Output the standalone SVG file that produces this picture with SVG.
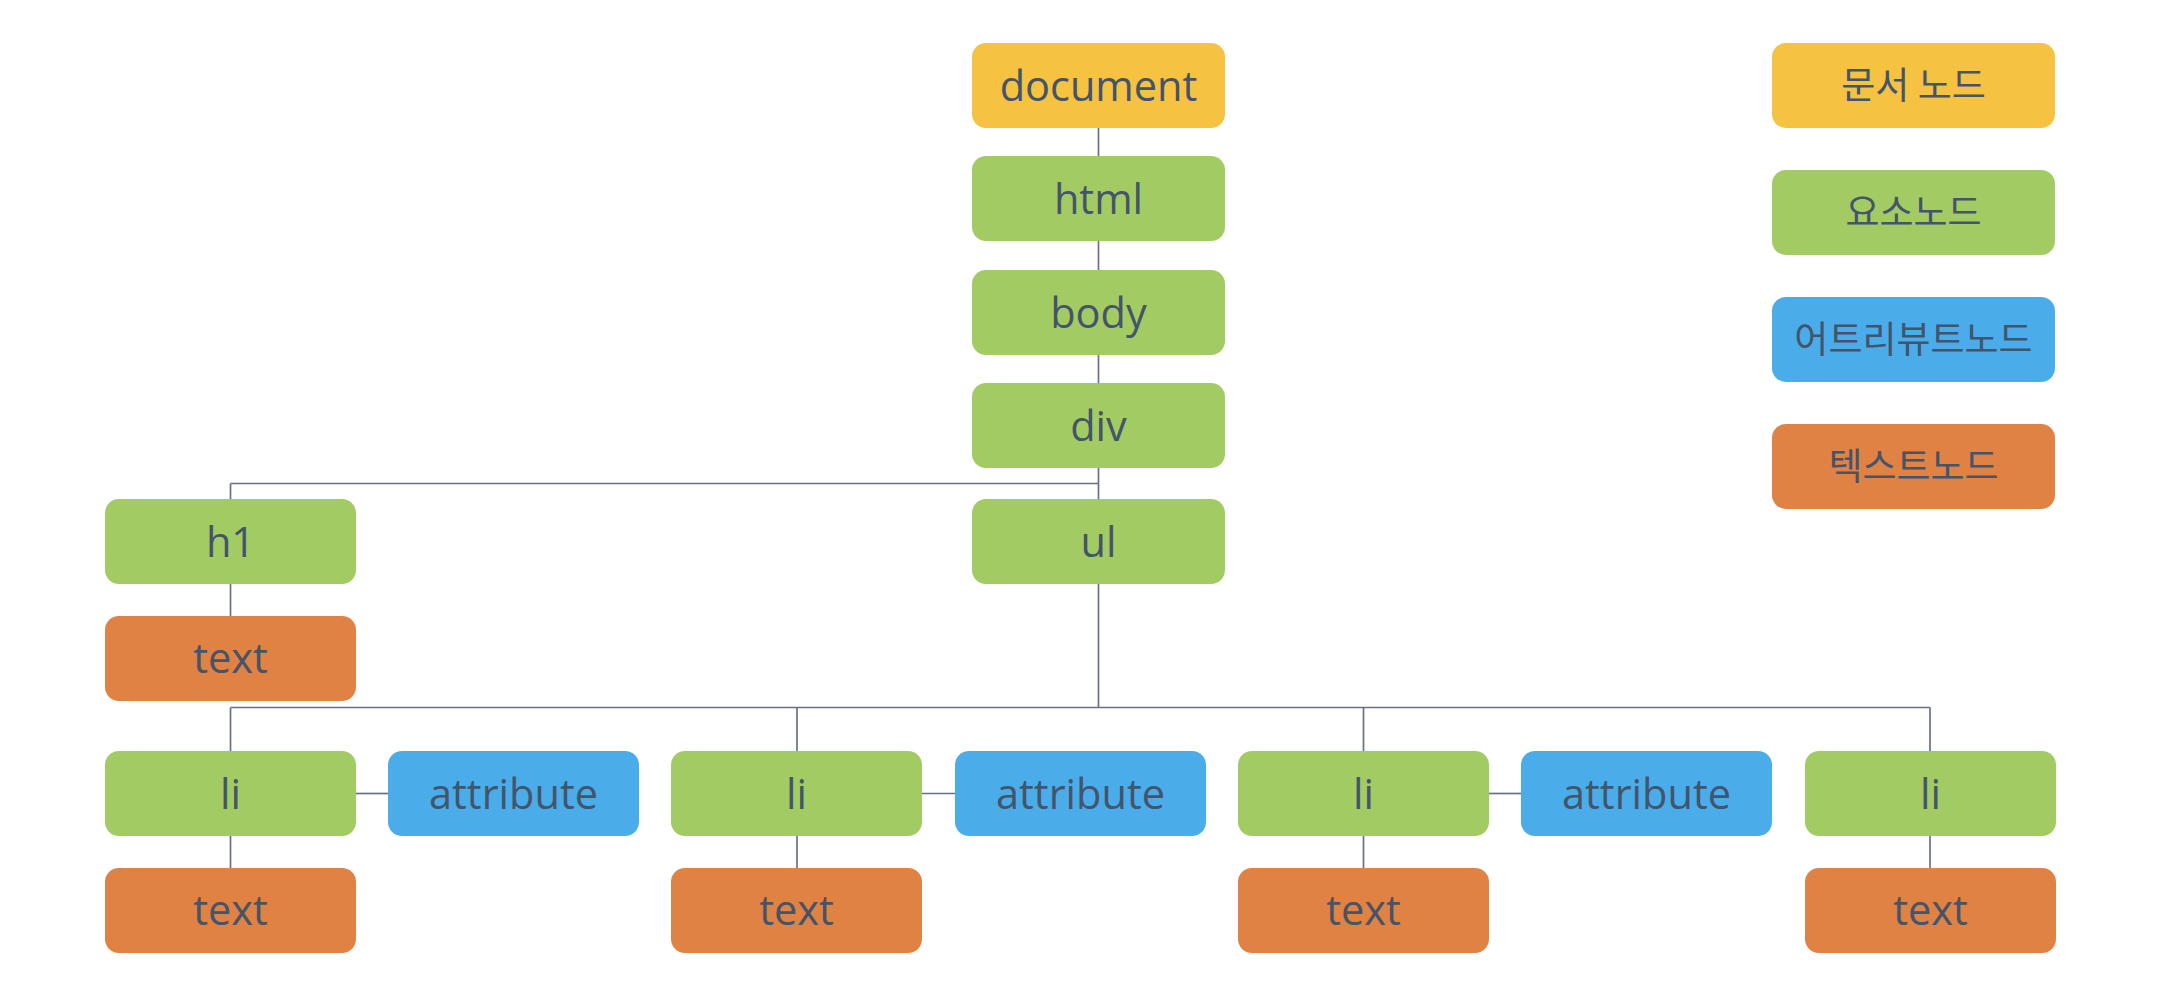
<svg xmlns="http://www.w3.org/2000/svg" width="2160" height="994" viewBox="0 0 2160 994">
<style>
.n rect{rx:14px;ry:14px}
.doc{fill:#F5C242}
.el{fill:#A2CC63}
.at{fill:#4AADE9}
.tx{fill:#E08243}
.n text{font-family:"Open Sans","Noto Sans",sans-serif;font-size:41.5px;fill:#44546A;text-anchor:middle}
.n text.ko{font-family:"Noto Sans CJK KR",sans-serif;font-size:37px;font-weight:400}
.c line{stroke:#687285;stroke-width:1.7}
</style>
<rect width="2160" height="994" fill="#FFFFFF"/>
<g class="c" id="connectors">
<line x1="1098.5" y1="128" x2="1098.5" y2="156"/>
<line x1="1098.5" y1="241" x2="1098.5" y2="270"/>
<line x1="1098.5" y1="355" x2="1098.5" y2="383"/>
<line x1="1098.5" y1="468" x2="1098.5" y2="499"/>
<line x1="230.5" y1="483.5" x2="1098.5" y2="483.5"/>
<line x1="230.5" y1="483.5" x2="230.5" y2="499"/>
<line x1="230.5" y1="584" x2="230.5" y2="616"/>
<line x1="1098.5" y1="584" x2="1098.5" y2="707.5"/>
<line x1="230.5" y1="707.5" x2="1930" y2="707.5"/>
<line x1="230.5" y1="707.5" x2="230.5" y2="751"/>
<line x1="797" y1="707.5" x2="797" y2="751"/>
<line x1="1363.5" y1="707.5" x2="1363.5" y2="751"/>
<line x1="1930" y1="707.5" x2="1930" y2="751"/>
<line x1="230.5" y1="836" x2="230.5" y2="868"/>
<line x1="797" y1="836" x2="797" y2="868"/>
<line x1="1363.5" y1="836" x2="1363.5" y2="868"/>
<line x1="1930" y1="836" x2="1930" y2="868"/>
<line x1="356" y1="793.5" x2="388" y2="793.5"/>
<line x1="922" y1="793.5" x2="955" y2="793.5"/>
<line x1="1489" y1="793.5" x2="1521" y2="793.5"/>
</g>
<g class="n" id="document"><rect class="doc" x="972" y="43" width="253" height="85"/><text x="1098.5" y="101">document</text></g>
<g class="n" id="html"><rect class="el" x="972" y="156" width="253" height="85"/><text x="1098.5" y="214">html</text></g>
<g class="n" id="body"><rect class="el" x="972" y="270" width="253" height="85"/><text x="1098.5" y="328">body</text></g>
<g class="n" id="div"><rect class="el" x="972" y="383" width="253" height="85"/><text x="1098.5" y="441">div</text></g>
<g class="n" id="ul"><rect class="el" x="972" y="499" width="253" height="85"/><text x="1098.5" y="557">ul</text></g>
<g class="n" id="h1"><rect class="el" x="105" y="499" width="251" height="85"/><text x="230.5" y="557">h1</text></g>
<g class="n" id="h1-text"><rect class="tx" x="105" y="616" width="251" height="85"/><text x="230.5" y="673">text</text></g>
<g class="n" id="li1"><rect class="el" x="105" y="751" width="251" height="85"/><text x="230.5" y="809">li</text></g>
<g class="n" id="attr1"><rect class="at" x="388" y="751" width="251" height="85"/><text x="513.5" y="809">attribute</text></g>
<g class="n" id="li1-text"><rect class="tx" x="105" y="868" width="251" height="85"/><text x="230.5" y="925">text</text></g>
<g class="n" id="li2"><rect class="el" x="671" y="751" width="251" height="85"/><text x="796.5" y="809">li</text></g>
<g class="n" id="attr2"><rect class="at" x="955" y="751" width="251" height="85"/><text x="1080.5" y="809">attribute</text></g>
<g class="n" id="li2-text"><rect class="tx" x="671" y="868" width="251" height="85"/><text x="796.5" y="925">text</text></g>
<g class="n" id="li3"><rect class="el" x="1238" y="751" width="251" height="85"/><text x="1363.5" y="809">li</text></g>
<g class="n" id="attr3"><rect class="at" x="1521" y="751" width="251" height="85"/><text x="1646.5" y="809">attribute</text></g>
<g class="n" id="li3-text"><rect class="tx" x="1238" y="868" width="251" height="85"/><text x="1363.5" y="925">text</text></g>
<g class="n" id="li4"><rect class="el" x="1805" y="751" width="251" height="85"/><text x="1930.5" y="809">li</text></g>
<g class="n" id="li4-text"><rect class="tx" x="1805" y="868" width="251" height="85"/><text x="1930.5" y="925">text</text></g>
<g class="n" id="legend-doc"><rect class="doc" x="1772" y="43" width="283" height="85"/><text class="ko" x="1913.5" y="99">문서 노드</text></g>
<g class="n" id="legend-el"><rect class="el" x="1772" y="170" width="283" height="85"/><text class="ko" x="1913.5" y="226">요소노드</text></g>
<g class="n" id="legend-at"><rect class="at" x="1772" y="297" width="283" height="85"/><text class="ko" x="1913.5" y="353">어트리뷰트노드</text></g>
<g class="n" id="legend-tx"><rect class="tx" x="1772" y="424" width="283" height="85"/><text class="ko" x="1913.5" y="480">텍스트노드</text></g>
</svg>
